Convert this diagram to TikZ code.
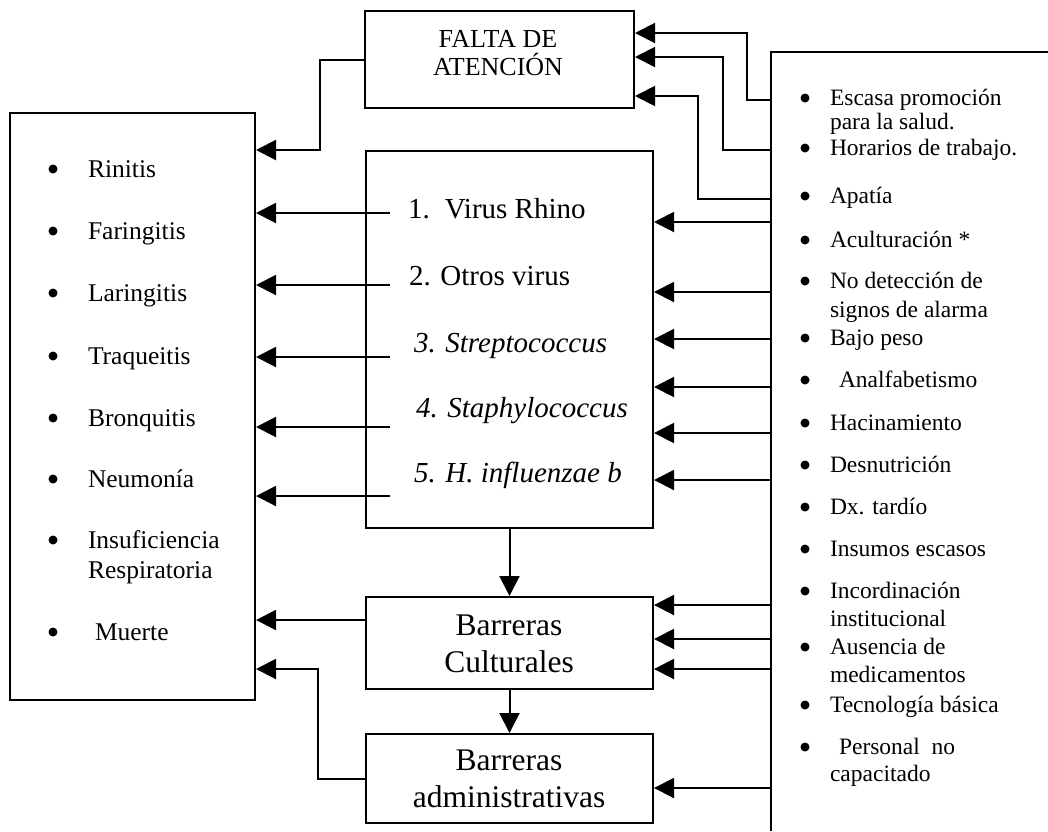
\documentclass[tikz,border=0pt]{standalone}
\usepackage{fontspec}
\setmainfont{Liberation Serif}
\usetikzlibrary{arrows.meta}
\begin{document}
\begin{tikzpicture}[x=1pt,y=-1pt,line width=2pt,
  box/.style={draw,line width=2pt,inner sep=0pt,anchor=north west},
  arr/.style={-{Triangle[length=20pt,width=20pt]},line width=2pt},
  bul/.style={circle,fill,inner sep=0pt,minimum size=9pt},
  lt/.style={anchor=base west,inner sep=0pt,font=\fontsize{25.5}{28}\selectfont},
  rt/.style={anchor=base west,inner sep=0pt,font=\fontsize{23.5}{27}\selectfont},
  vt/.style={anchor=base west,inner sep=0pt,font=\fontsize{29}{32}\selectfont},
  vti/.style={vt,font=\fontsize{29}{32}\selectfont\itshape},
  ft/.style={anchor=base,inner sep=0pt,font=\fontsize{26}{29}\selectfont},
  bt/.style={anchor=base,inner sep=0pt,font=\fontsize{31.5}{34}\selectfont}]
\useasboundingbox (0,0) rectangle (1048,831);
\fill[white] (0,0) rectangle (1048,831);

% boxes
\node[box,minimum width=245pt,minimum height=587pt] (eff) at (9,112) {};
\node[box,minimum width=269pt,minimum height=97pt] (falta) at (364,10) {};
\node[box,minimum width=287pt,minimum height=377pt] (virus) at (365,150) {};
\node[box,minimum width=287pt,minimum height=92pt] (cult) at (365,596) {};
\node[box,minimum width=287pt,minimum height=89pt] (admin) at (365,733) {};
% open right box
\coordinate (rbt) at (1048,52);
\coordinate (rbc) at (771,52);
\coordinate (rbb) at (771,831);
\draw (rbt) -- (rbc) -- (rbb);

% box texts
\node[ft] (fa) at (498,47) {FALTA DE};
\node[ft] (fb) at (498,75) {ATENCIÓN};
\node[vt] (v1) at (407,218) {1.\hspace{15pt}Virus Rhino};
\node[vt] (v2) at (408,285) {2. Otros virus};
\node[vti] (v3) at (413,352) {3. Streptococcus};
\node[vti] (v4) at (415,417) {4. Staphylococcus};
\node[vti] (v5) at (413,482) {5. H. influenzae b};
\node[bt] (ca) at (509,635) {Barreras};
\node[bt] (cb) at (509,672) {Culturales};
\node[bt] (aa) at (509,770) {Barreras};
\node[bt] (ab) at (509,807) {administrativas};

% left list
\node[bul] (lb1) at (53,169) {}; \node[lt] (l1) at (87,177) {Rinitis};
\node[bul] (lb2) at (53,231) {}; \node[lt] (l2) at (87,239) {Faringitis};
\node[bul] (lb3) at (53,293) {}; \node[lt] (l3) at (87,301) {Laringitis};
\node[bul] (lb4) at (53,356) {}; \node[lt] (l4) at (87,364) {Traqueitis};
\node[bul] (lb5) at (53,418) {}; \node[lt] (l5) at (87,426) {Bronquitis};
\node[bul] (lb6) at (53,479) {}; \node[lt] (l6) at (87,487) {Neumonía};
\node[bul] (lb7) at (53,540) {}; \node[lt] (l7) at (87,548) {Insuficiencia};
\node[lt] (l7b) at (87,578) {Respiratoria};
\node[bul] (lb8) at (53,632) {}; \node[lt] (l8) at (94,640) {Muerte};

% right list
\node[bul] (rb1) at (805,98) {}; \node[rt] (r1) at (829,105) {Escasa promoción};
\node[rt] (r1b) at (829,129) {para la salud.};
\node[bul] (rb2) at (805,148) {}; \node[rt] (r2) at (829,155) {Horarios de trabajo.};
\node[bul] (rb3) at (805,196) {}; \node[rt] (r3) at (829,203) {Apatía};
\node[bul] (rb4) at (805,240) {}; \node[rt] (r4) at (829,247) {Aculturación *};
\node[bul] (rb5) at (805,281) {}; \node[rt] (r5) at (829,288) {No detección de};
\node[rt] (r5b) at (829,317) {signos de alarma};
\node[bul] (rb6) at (805,338) {}; \node[rt] (r6) at (829,345) {Bajo peso};
\node[bul] (rb7) at (805,380) {}; \node[rt] (r7) at (838,387) {Analfabetismo};
\node[bul] (rb8) at (805,423) {}; \node[rt] (r8) at (829,430) {Hacinamiento};
\node[bul] (rb9) at (805,465) {}; \node[rt] (r9) at (829,472) {Desnutrición};
\node[bul] (rb10) at (805,507) {}; \node[rt] (r10) at (829,514) {Dx. tardío};
\node[bul] (rb11) at (805,549) {}; \node[rt] (r11) at (829,556) {Insumos escasos};
\node[bul] (rb12) at (805,591) {}; \node[rt] (r12) at (829,598) {Incordinación};
\node[rt] (r12b) at (829,626) {institucional};
\node[bul] (rb13) at (805,647) {}; \node[rt] (r13) at (829,654) {Ausencia de};
\node[rt] (r13b) at (829,682) {medicamentos};
\node[bul] (rb14) at (805,705) {}; \node[rt] (r14) at (829,712) {Tecnología básica};
\node[bul] (rb15) at (805,747) {}; \node[rt] (r15) at (838,754) {Personal\ \ no};
\node[rt] (r15b) at (829,781) {capacitado};

% falta -> effects
\coordinate (fl) at (320,150);
\draw[arr] (falta.west) -| (fl) -- (fl -| eff.east);
% virus -> effects
\foreach \y [count=\i] in {213,285,357,427,496} {
  \coordinate (vs\i) at (390,\y);
  \draw[arr] (vs\i) -- (vs\i -| eff.east);
}
% barreras -> effects
\coordinate (c1) at (365,620);
\draw[arr] (c1) -- (c1 -| eff.east);
\coordinate (a1) at (318,669);
\draw[arr] (admin.west) -| (a1) -- (a1 -| eff.east);
% vertical chain
\draw[arr] (virus.south) -- (cult.north);
\draw[arr] (cult.south) -- (admin.north);
% right box -> falta
\coordinate (fs1) at (771,100); \coordinate (fk1) at (747,33);
\draw[arr] (fs1) -| (fk1) -- (fk1 -| falta.east);
\coordinate (fs2) at (771,150); \coordinate (fk2) at (723,57);
\draw[arr] (fs2) -| (fk2) -- (fk2 -| falta.east);
\coordinate (fs3) at (771,199); \coordinate (fk3) at (698,96);
\draw[arr] (fs3) -| (fk3) -- (fk3 -| falta.east);
% right box -> virus
\foreach \y [count=\i] in {222,292,339,387,433,480} {
  \coordinate (rs\i) at (771,\y);
  \draw[arr] (rs\i) -- (rs\i -| virus.east);
}
% right box -> barreras
\foreach \y [count=\i] in {605,639,669} {
  \coordinate (cs\i) at (771,\y);
  \draw[arr] (cs\i) -- (cs\i -| cult.east);
}
\coordinate (as1) at (771,788);
\draw[arr] (as1) -- (as1 -| admin.east);
\end{tikzpicture}
\end{document}
